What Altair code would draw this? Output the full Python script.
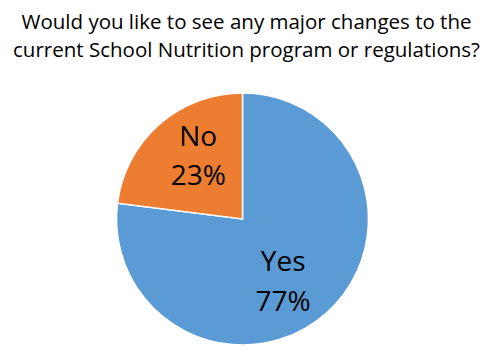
import altair as alt
import pandas as pd

categories = ["Yes", "No"]
values = [77, 23]
labels = ["Yes\n77%", "No\n23%"]
colors = ["#5B9BD5", "#ED7D31"]

df = pd.DataFrame({"category": categories, "value": values, "label": labels})

title_line1 = "Would you like to see any major changes to the"
title_line2 = "current School Nutrition program or regulations?"

base = alt.Chart(df).encode(
    theta=alt.Theta("value:Q", stack=True, scale=alt.Scale(range=[0, 6.283185307])),
    order=alt.Order("category:N", sort="descending"),
)

pie = base.mark_arc(radius=126, stroke="white", strokeWidth=1.5).encode(
    x=alt.value(234.5),
    y=alt.value(146),
    color=alt.Color("category:N", scale=alt.Scale(domain=categories, range=colors), legend=None),
)

def label_layer(cat, r, dx, dy):
    return base.mark_text(
        font="Open Sans", fontSize=28, lineBreak="\n", lineHeight=39.5,
        baseline="middle", align="center", color="black", radius=r, dx=dx, dy=dy,
    ).encode(
        x=alt.value(234.5),
        y=alt.value(146),
        text="label:N",
        opacity=alt.condition(alt.datum.category == cat, alt.value(1), alt.value(0)),
    )

text_yes = label_layer("Yes", 60, 1, -1)
text_no = label_layer("No", 76, 6, -24)

chart = (
    (pie + text_yes + text_no)
    .properties(
        width=477,
        height=275,
        padding={"top": 65, "left": 0, "right": 0, "bottom": 0},
        autosize=alt.AutoSizeParams(type="none"),
        title=alt.TitleParams(
            title_line1,
            subtitle=title_line2,
            font="Open Sans",
            fontSize=20.5,
            fontWeight="normal",
            color="black",
            lineHeight=22,
            subtitleFont="Open Sans",
            subtitleFontSize=20.5,
            subtitleFontWeight="normal",
            subtitleColor="black",
            subtitleLineHeight=22,
            subtitlePadding=7,
            anchor="middle",
            offset=12,
        ),
    )
    .configure_view(stroke=None)
)

chart.save("out.html", embed_options={"renderer": "svg", "actions": False})
